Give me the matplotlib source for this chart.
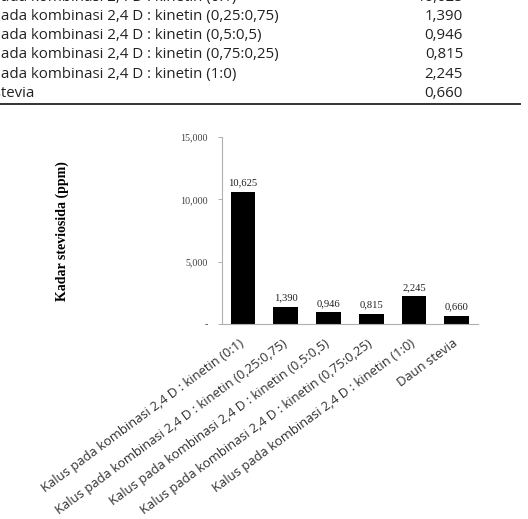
import matplotlib
matplotlib.use("Agg")
import matplotlib.pyplot as plt

# ---- data ----
categories = [
    "Kalus pada kombinasi 2,4 D : kinetin (0:1)",
    "Kalus pada kombinasi 2,4 D : kinetin (0,25:0,75)",
    "Kalus pada kombinasi 2,4 D : kinetin (0,5:0,5)",
    "Kalus pada kombinasi 2,4 D : kinetin (0,75:0,25)",
    "Kalus pada kombinasi 2,4 D : kinetin (1:0)",
    "Daun stevia",
]
values = [10.625, 1.390, 0.946, 0.815, 2.245, 0.660]
y_ticks = [0, 5, 10, 15]
y_label = "Kadar steviosida (ppm)"


def fmt(v):
    return f"{v:.3f}".replace(".", ",")


W, H = 528, 519
fig = plt.figure(figsize=(W / 100, H / 100), dpi=100)

# ---- table fragment at the top (cropped) ----
row_baselines = [1, 20, 39, 58.5, 78, 97]  # pixels from top
table_font = dict(family="Open Sans", fontsize=10.8, color="#222222")
renderer = fig.canvas.get_renderer()
for lab, val, yb in zip(categories, values, row_baselines):
    # hide the first part of the left text like the cropped screenshot
    prefix = "Kalus p" if lab.startswith("Kalus") else "Daun s"
    t = fig.text(0, 0, prefix, **table_font)
    wpx = t.get_window_extent(renderer).width
    t.remove()
    fig.text((-wpx + 1) / W, 1 - yb / H, lab, ha="left", va="baseline", **table_font)
    fig.text(463 / W, 1 - yb / H, fmt(val), ha="right", va="baseline", **table_font)

fig.add_artist(plt.Line2D([0, 0.985], [1 - 104.3 / H] * 2, transform=fig.transFigure,
                          color="#333333", lw=1.4))

# ---- chart ----
left, right, top, bottom = 221.7, 478, 137, 324
ax = fig.add_axes([left / W, 1 - bottom / H, (right - left) / W, (bottom - top) / H])
x = range(len(categories))
ax.bar(x, values, width=0.58, color="black")
ax.set_xlim(-0.5, len(categories) - 0.5)
ax.set_ylim(0, 15)
ax.set_yticks(y_ticks)
ax.set_yticklabels(["-" if v == 0 else fmt(v) for v in y_ticks],
                   family="Liberation Serif", fontsize=7.2, color="#404040")
ax.tick_params(axis="y", length=3, width=0.6, color="#a0a0a0", pad=7)
ax.tick_params(axis="x", length=0, pad=13)
ax.set_xticks(list(x))
ax.set_xticklabels(categories, rotation=36.5, rotation_mode="anchor", ha="right",
                   va="center", family="Open Sans", fontsize=9.4, color="#303030")
for s in ["top", "right"]:
    ax.spines[s].set_visible(False)
for s in ["left", "bottom"]:
    ax.spines[s].set_color("#b0b0b0")
    ax.spines[s].set_linewidth(0.8)

for xi, v in zip(x, values):
    ax.annotate(fmt(v), (xi, v), xytext=(0, 3), textcoords="offset points",
                ha="center", va="bottom", family="Liberation Serif", fontsize=7.6,
                color="#202020")

fig.text(62 / W, 1 - 231 / H, y_label, rotation=90, ha="center", va="center",
         family="Liberation Serif", fontweight="bold", fontsize=10, color="black")

fig.savefig("out.png", dpi=100)
